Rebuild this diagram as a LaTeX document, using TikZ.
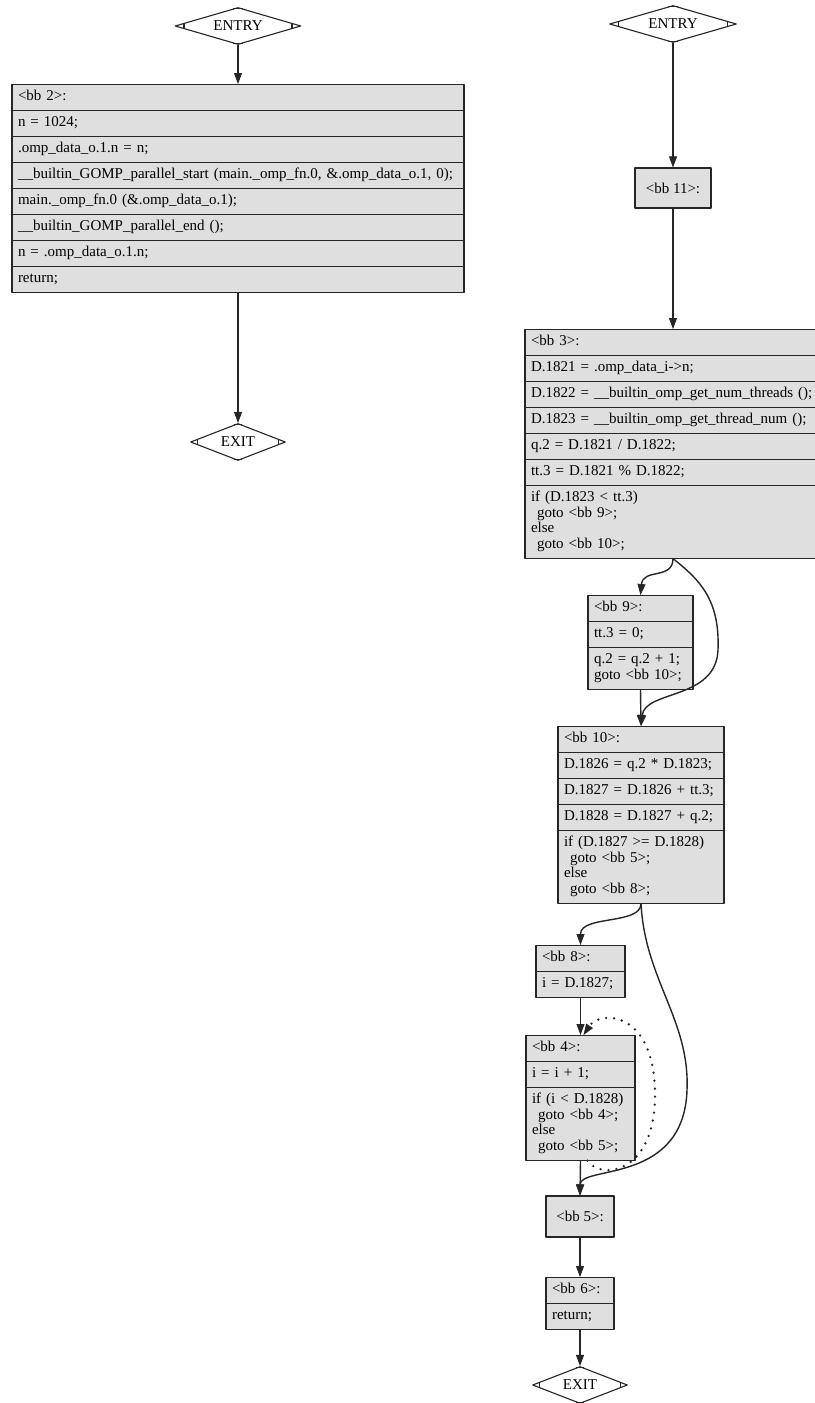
\documentclass[tikz,border=0pt]{standalone}
\usepackage{fontspec}
\setmainfont{Liberation Serif}
\usetikzlibrary{shapes.geometric,shapes.multipart,arrows.meta,calc}
\newcommand\blkfont{\fontsize{15}{15.5}\selectfont}
\tikzset{
  blk/.style 2 args={rectangle split, rectangle split parts=#1, draw=black!85, fill=gray!25,
    line width=1.1pt, inner xsep=6pt, inner ysep=4.7pt, text width={#2pt-12pt}, anchor=north,
    execute at begin node=\strut, execute at end node={\unskip\strut}},
  lone/.style={draw=black!85, fill=gray!25, line width=1.1pt, inner sep=0pt},
  term/.style={diamond, draw=black!85, line width=1.1pt, inner sep=0pt, aspect=3.4, minimum height=37pt},
  flow/.style={->, draw=black!85, line width=1.4pt},
  loopdots/.style={line width=2.6pt, dash pattern=on 0pt off 8pt, line cap=round},
}
\begin{document}
\begin{tikzpicture}[x=1pt, y=-1pt, font=\blkfont, line join=round,
    >={Triangle[length=11pt, width=8pt, line width=0.8pt]}]
  \useasboundingbox[fill=white] (0,0) rectangle (814,1403);
  \def\ind{\hspace*{6pt}} % indent of a goto line

  % main ()
  \node[term, minimum width=126pt] (entA) at (238,26) {ENTRY};
  \node[blk={8}{452}] (bb2) at (238,84) {<bb 2>:
    \nodepart{two} n = 1024;
    \nodepart{three} .omp\_data\_o.1.n = n;
    \nodepart{four} \_\_builtin\_GOMP\_parallel\_start (main.\_omp\_fn.0, \&.omp\_data\_o.1, 0);
    \nodepart{five} main.\_omp\_fn.0 (\&.omp\_data\_o.1);
    \nodepart{six} \_\_builtin\_GOMP\_parallel\_end ();
    \nodepart{seven} n = .omp\_data\_o.1.n;
    \nodepart{eight} return;};
  \node[term, minimum width=95pt] (exA) at (238,442) {EXIT};

  % main._omp_fn.0 ()
  \node[term, minimum width=127pt] (entB) at (673,24) {ENTRY};
  \node[lone, minimum width=76pt, minimum height=40pt] (bb11) at (673,188) {<bb 11>:};
  \node[blk={7}{296}] (bb3) at (673,329) {<bb 3>:
    \nodepart{two} D.1821 = .omp\_data\_i->n;
    \nodepart{three} D.1822 = \_\_builtin\_omp\_get\_num\_threads ();
    \nodepart{four} D.1823 = \_\_builtin\_omp\_get\_thread\_num ();
    \nodepart{five} q.2 = D.1821 / D.1822;
    \nodepart{six} tt.3 = D.1821 \% D.1822;
    \nodepart{seven} if (D.1823 < tt.3)\\ \ind goto <bb 9>;\\ else\\ \ind goto <bb 10>;};
  \node[blk={3}{105}] (bb9) at (640.5,595) {<bb 9>:
    \nodepart{two} tt.3 = 0;
    \nodepart{three} q.2 = q.2 + 1;\\ goto <bb 10>;};
  \node[blk={5}{166}] (bb10) at (641,726) {<bb 10>:
    \nodepart{two} D.1826 = q.2 * D.1823;
    \nodepart{three} D.1827 = D.1826 + tt.3;
    \nodepart{four} D.1828 = D.1827 + q.2;
    \nodepart{five} if (D.1827 >= D.1828)\\ \ind goto <bb 5>;\\ else\\ \ind goto <bb 8>;};
  \node[blk={2}{89}] (bb8) at (580.5,945) {<bb 8>:
    \nodepart{two} i = D.1827;};
  \node[blk={3}{109}] (bb4) at (580.5,1035) {<bb 4>:
    \nodepart{two} i = i + 1;
    \nodepart{three} if (i < D.1828)\\ \ind goto <bb 4>;\\ else\\ \ind goto <bb 5>;};
  \node[lone, minimum width=68pt, minimum height=41pt] (bb5) at (580,1216.5) {<bb 5>:};
  \node[blk={2}{68}] (bb6) at (580,1277) {<bb 6>:
    \nodepart{two} return;};
  \node[term, minimum width=95pt] (exB) at (580,1385) {EXIT};

  % corner marks of the ENTRY/EXIT diamonds
  \foreach \n in {entA,exA,entB,exB}{
    \draw[black!85, line width=1.1pt]
      ($(\n.west)!.15!(\n.north)$) -- ($(\n.west)!.15!(\n.south)$)
      ($(\n.east)!.15!(\n.north)$) -- ($(\n.east)!.15!(\n.south)$)
      ($(\n.north)!.08!(\n.west)$) -- ($(\n.north)!.08!(\n.east)$)
      ($(\n.south)!.08!(\n.west)$) -- ($(\n.south)!.08!(\n.east)$);
  }

  \draw[flow] (entA) -- (bb2.north);
  \draw[flow] (bb2.south) -- (exA);

  \draw[flow] (entB) -- (bb11);
  \draw[flow] (bb11) -- (bb3.north);
  \draw[flow] (bb3.south) .. controls (673,580) and (643,568) .. (bb9.north);
  \draw[flow] (bb3.south) .. controls (700,580) and (720,600) .. (718,650)
    .. controls (716,700) and (645,690) .. (bb10.north);
  \draw[flow] (bb9.south) -- (bb10.north);
  \draw[flow] (bb10.south) .. controls (641,925) and (580.5,915) .. (bb8.north);
  \draw[flow] (bb10.south) .. controls (645,980) and (690,1020) .. (687,1090)
    .. controls (684,1185) and (580,1165) .. (bb5.north);
  \draw[flow] (bb8.south) -- (bb4.north);
  \draw[flow, loopdots] ([xshift=7pt]bb4.south) .. controls (600,1180) and (655,1175) .. (655,1095)
    .. controls (655,1010) and (600,1010) .. ([xshift=3pt]bb4.north);
  \draw[flow] (bb4.south) -- (bb5.north);
  \draw[flow] (bb5) -- (bb6.north);
  \draw[flow] (bb6.south) -- (exB);
\end{tikzpicture}
\end{document}
